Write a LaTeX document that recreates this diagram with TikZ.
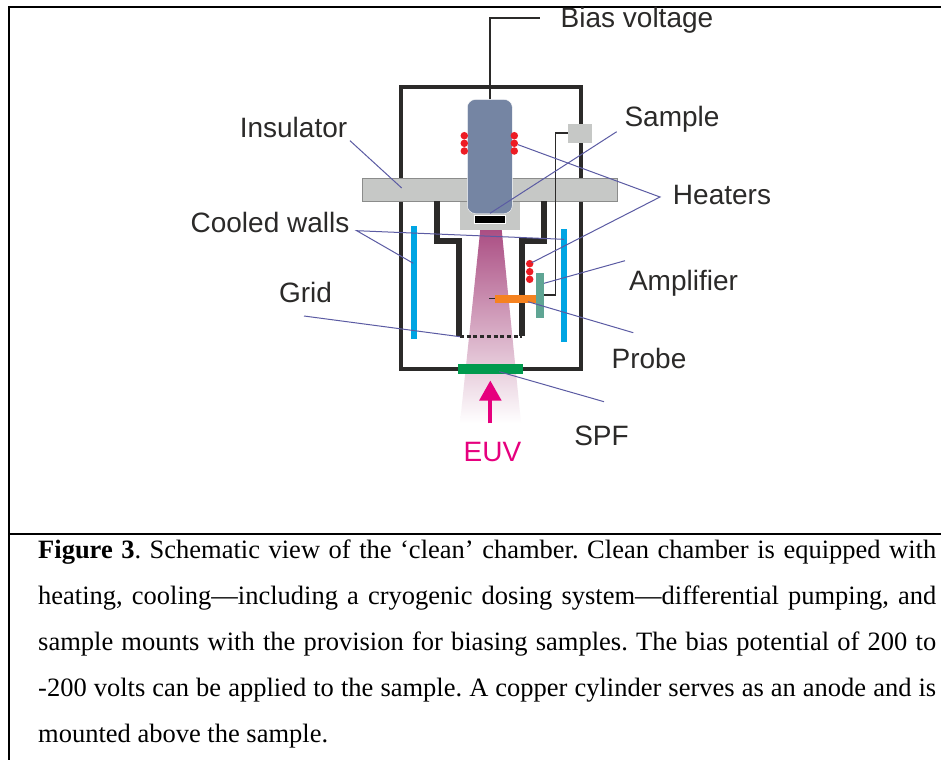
\documentclass[tikz,border=0pt]{standalone}
\usepackage{fontspec}
\setmainfont{Liberation Serif}
\setsansfont{Liberation Sans}
\definecolor{leader}{HTML}{5B5BA3}
\definecolor{wall}{HTML}{2B2A29}
\definecolor{plate}{HTML}{C6C8C6}
\definecolor{rodblue}{HTML}{7585A3}
\definecolor{coolblue}{HTML}{00A5E3}
\definecolor{heatred}{HTML}{ED1C24}
\definecolor{probeorange}{HTML}{F58220}
\definecolor{ampgreen}{HTML}{5FA594}
\definecolor{spfgreen}{HTML}{009A4E}
\definecolor{euvpink}{HTML}{E6007E}
\definecolor{beamtop}{HTML}{A8487F}
\tikzset{
  label/.style={font=\sffamily\fontsize{28}{30}\selectfont, text=wall, inner sep=0pt},
  lead/.style={draw=leader, line width=1pt},
  heater/.style={circle, fill=heatred, minimum size=7.5pt, inner sep=0pt},
  frame/.style={black, line width=2.3pt},
}
\begin{document}
\begin{tikzpicture}[x=1pt, y=-1pt]
            \useasboundingbox (0,0) rectangle (941,760);
            \fill[white] (0,0) rectangle (941,760);
            \draw[frame] (941,7) -- (9,7) -- (9,760);
            \draw[frame] (9,534) -- (941,534);
            \path[top color=beamtop, bottom color=white] (481,223) -- (501,223) -- (521,423) -- (460,423) -- cycle;
            \draw[wall, line width=4.5pt] (401,178) -- (401,87) -- (581,87) -- (581,178);
            \draw[wall, line width=4.5pt] (401,201) -- (401,369) -- (581,369) -- (581,201);
            \fill[plate] (460,201) rectangle (520,230);
            \draw[plate!70!black, fill=plate, line width=0.8pt] (362,178) rectangle (617,201);
            \draw[wall, line width=6pt] (437,201) -- (437,241) -- (459,241) -- (459,336);
            \draw[wall, line width=6pt] (544,201) -- (544,241) -- (522,241) -- (522,336);
            \draw[wall, line width=2.2pt, dash pattern=on 4pt off 2.7pt] (460,336.5) -- (522,336.5);
            \node[fill=rodblue, draw=white, rounded corners=8pt, minimum width=45pt, minimum height=114pt, inner sep=0pt] (rod) at (489.8,156.5) {};
            \node[fill=black, draw=white, minimum width=31pt, minimum height=8pt, inner sep=0pt] (sample) at (490,219.5) {};
            \node[heater] (h1) at (464.3,135.7) {};
            \node[heater] (h2) at (464.3,143.3) {};
            \node[heater] (h3) at (464.3,151.0) {};
            \node[heater] (h4) at (514.3,135.7) {};
            \node[heater] (h5) at (514.3,143.3) {};
            \node[heater] (h6) at (514.3,151.0) {};
            \node[heater] (h7) at (529.7,263.7) {};
            \node[heater] (h8) at (529.7,271.7) {};
            \node[heater] (h9) at (529.7,279.3) {};
            \fill[coolblue] (410.7,226) rectangle (417,339.3);
            \fill[coolblue] (561,229) rectangle (567.3,341.7);
            \node[fill=plate, minimum width=24.5pt, minimum height=19pt, inner sep=0pt] (amp) at (580.2,133.2) {};
            \node[fill=ampgreen, minimum width=8pt, minimum height=45pt, inner sep=0pt] (ampplate) at (540,295.2) {};
            \node[fill=probeorange, minimum width=41pt, minimum height=7.7pt, inner sep=0pt] (probe) at (515.6,298.8) {};
            \node[fill=spfgreen, minimum width=65pt, minimum height=10pt, inner sep=0pt] (spf) at (490.3,369) {};
            \coordinate (pin) at (489,298.8);
            \draw[wall, line width=0.8pt] (pin) -- (probe.west);
            \draw[wall, line width=1.8pt] (amp.west) -| (555.5,295) -- (ampplate.east |- 0,295);
            \node[label] (bias) at (637,20) {Bias voltage};
            \node[label] (insulator) at (293.5,127.5) {Insulator};
            \node[label] (samplelab) at (672,119) {Sample};
            \node[label] (heaters) at (722,195) {Heaters};
            \node[label] (cooled) at (270,222) {Cooled walls};
            \node[label] (amplifier) at (683.5,283) {Amplifier};
            \node[label] (grid) at (305.5,292) {Grid};
            \node[label] (probelab) at (649,358) {Probe};
            \node[label] (spflab) at (601.5,436) {SPF};
            \node[label, text=euvpink] (euv) at (492.5,452) {EUV};
            \coordinate (biasend) at (540,18);
            \draw[wall, line width=2pt] (rod.north) |- (biasend);
            \draw[euvpink, line width=4pt] (490.3,423.3) -- (490.3,400);
            \fill[euvpink] (490.3,380.7) -- (501.7,400.7) -- (479,400.7) -- cycle;
            \coordinate (a1) at (350,140.7);
            \coordinate (a2) at (401.7,188);
            \coordinate (a3) at (356.7,230.7);
            \coordinate (a4) at (564,239.3);
            \coordinate (a5) at (413.3,263.3);
            \coordinate (a6) at (616.7,131.7);
            \coordinate (a7) at (490,213.3);
            \coordinate (a8) at (660,197);
            \coordinate (a9) at (531.7,262.7);
            \coordinate (a10) at (625,260.7);
            \coordinate (a11) at (544,283.3);
            \coordinate (a12) at (633.3,332.7);
            \coordinate (a13) at (528,301.7);
            \coordinate (a14) at (304,316);
            \coordinate (a15) at (460,336.7);
            \coordinate (a16) at (604,401.7);
            \coordinate (a17) at (499.3,371.7);
            \draw[lead] (a1) -- (a2);
            \draw[lead] (a4) -- (a3) -- (a5);
            \draw[lead] (a6) -- (a7);
            \draw[lead] (h5) -- (a8) -- (a9);
            \draw[lead] (a10) -- (a11);
            \draw[lead] (a12) -- (a13);
            \draw[lead] (a14) -- (a15);
            \draw[lead] (a16) -- (a17);
            \node[anchor=north west, inner sep=0pt, text width=898pt, align=justify, font=\fontsize{26.5}{46}\selectfont] (caption) at (38,540) {\frenchspacing\textbf{Figure 3}. Schematic view of the ‘clean’ chamber. Clean chamber is equipped with\linebreak
            heating, cooling—including a cryogenic dosing system—differential pumping, and\linebreak
            sample mounts with the provision for biasing samples. The bias potential of 200 to\linebreak
            -200 volts can be applied to the sample. A copper cylinder serves as an anode and is\linebreak
            mounted above the sample.};
          \end{tikzpicture}
\end{document}
